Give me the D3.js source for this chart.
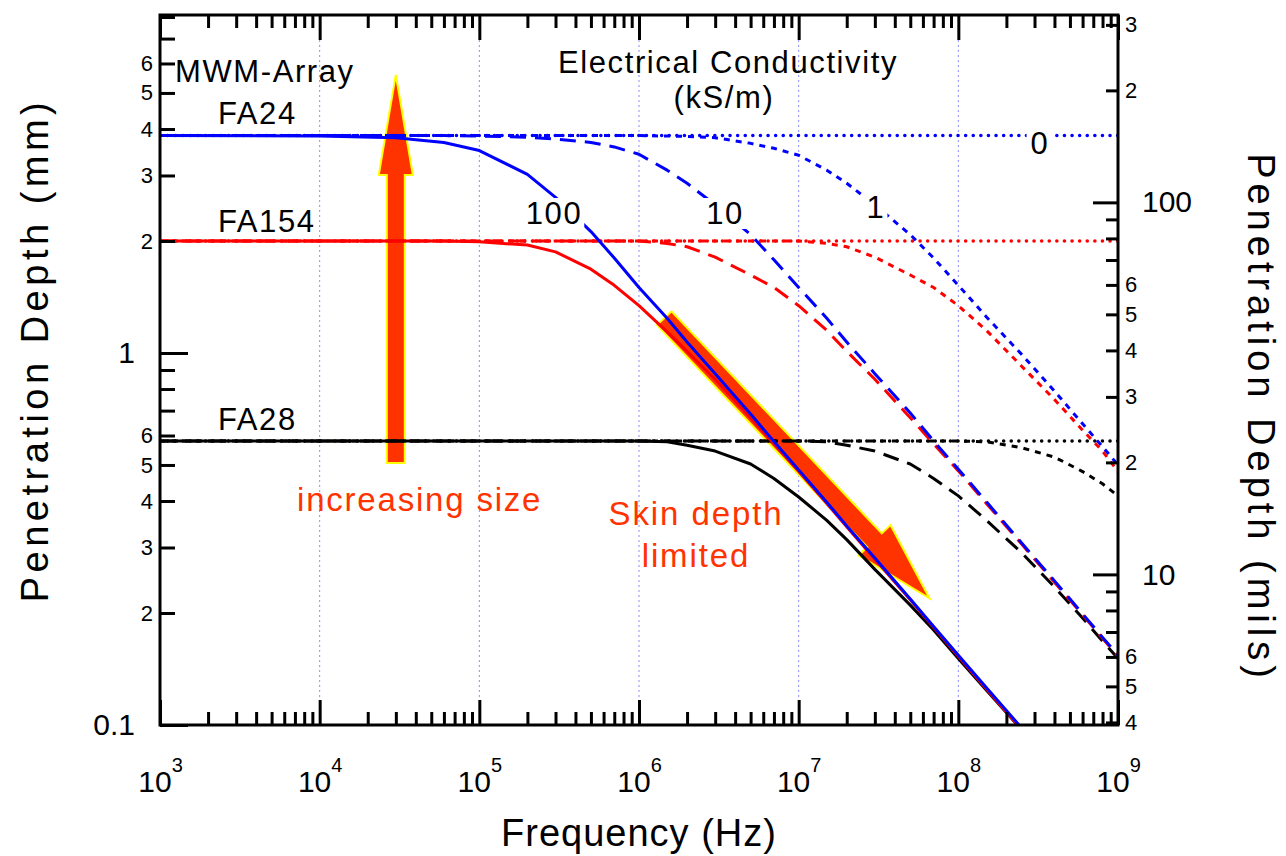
<!DOCTYPE html>
<html>
<head>
<meta charset="utf-8">
<script src="https://cdn.jsdelivr.net/npm/d3@7"></script>
<style>
  html, body { margin: 0; padding: 0; background: #fff; }
  svg { display: block; font-family: "Liberation Sans", Arial, sans-serif; }
</style>
</head>
<body>
<svg id="chart" width="1286" height="856"></svg>
<script>
// ---------- data ----------
// frequency sample points (Hz)
const freq = [1e3, 1e4, 3e4, 6e4, 1e5, 2e5, 3e5, 5e5, 7e5, 1e6, 1.5e6, 2e6, 3e6, 5e6, 7e6,
              1e7, 1.5e7, 2e7, 3e7, 5e7, 7e7, 1e8, 1.5e8, 2.5e8, 4e8, 6e8, 8e8, 1e9];

// penetration depth (mm) per sensor and conductivity (kS/m)
const fa24_s0   = [3.84,3.84,3.84,3.84,3.84,3.84,3.84,3.84,3.84,3.84,3.84,3.84,3.84,3.84,3.84,3.84,3.84,3.84,3.84,3.84,3.84,3.84,3.84,3.84,3.84,3.84,3.84,3.84];
const fa24_s1   = [3.84,3.84,3.84,3.84,3.84,3.84,3.84,3.84,3.84,3.84,3.83,3.82,3.79,3.66,3.55,3.40,3.10,2.86,2.50,2.08,1.80,1.52,1.25,0.99,0.79,0.645,0.56,0.50];
const fa24_s10  = [3.84,3.84,3.84,3.84,3.83,3.80,3.76,3.68,3.58,3.42,3.10,2.86,2.50,2.08,1.78,1.50,1.24,1.07,0.88,0.69,0.58,0.487,0.398,0.308,0.244,0.199,0.172,0.154];
const fa24_s100 = [3.84,3.83,3.79,3.68,3.50,3.02,2.62,2.12,1.80,1.50,1.24,1.07,0.88,0.685,0.578,0.485,0.397,0.343,0.281,0.218,0.184,0.154,0.126,0.098,null,null,null,null];

const fa154_s0   = [2.0,2.0,2.0,2.0,2.0,2.0,2.0,2.0,2.0,2.0,2.0,2.0,2.0,2.0,2.0,2.0,2.0,2.0,2.0,2.0,2.0,2.0,2.0,2.0,2.0,2.0,2.0,2.0];
const fa154_s1   = [2.0,2.0,2.0,2.0,2.0,2.0,2.0,2.0,2.0,2.0,2.0,2.0,2.0,2.0,2.0,2.0,1.97,1.93,1.81,1.62,1.50,1.34,1.15,0.92,0.75,0.62,0.545,0.48];
const fa154_s10  = [2.0,2.0,2.0,2.0,2.0,2.0,2.0,2.0,2.0,2.0,1.97,1.93,1.81,1.62,1.50,1.34,1.15,1.01,0.85,0.67,0.57,0.482,0.394,0.306,0.242,0.198,0.171,0.153];
const fa154_s100 = [2.0,2.0,2.0,2.0,1.99,1.95,1.87,1.68,1.52,1.34,1.14,1.01,0.85,0.67,0.57,0.48,0.394,0.341,0.279,0.217,0.183,0.153,0.125,0.097,null,null,null,null];

const fa28_s0   = [0.58,0.58,0.58,0.58,0.58,0.58,0.58,0.58,0.58,0.58,0.58,0.58,0.58,0.58,0.58,0.58,0.58,0.58,0.58,0.58,0.58,0.58,0.58,0.58,0.58,0.58,0.58,0.58];
const fa28_s1   = [0.58,0.58,0.58,0.58,0.58,0.58,0.58,0.58,0.58,0.58,0.58,0.58,0.58,0.58,0.58,0.58,0.58,0.58,0.58,0.58,0.58,0.58,0.577,0.556,0.525,0.48,0.445,0.413];
const fa28_s10  = [0.58,0.58,0.58,0.58,0.58,0.58,0.58,0.58,0.58,0.58,0.58,0.58,0.58,0.58,0.58,0.58,0.577,0.565,0.545,0.503,0.46,0.413,0.355,0.29,0.235,0.194,0.168,0.151];
const fa28_s100 = [0.58,0.58,0.58,0.58,0.58,0.58,0.58,0.58,0.58,0.58,0.577,0.565,0.545,0.503,0.46,0.41,0.355,0.315,0.262,0.21,0.18,0.151,0.124,0.097,null,null,null,null];

const sensors = ["FA24", "FA154", "FA28"];
const conductivities = ["0", "1", "10", "100"];

// axis ticks
const xMajor = [1e3, 1e4, 1e5, 1e6, 1e7, 1e8, 1e9];
const xGrid = [1e4, 1e5, 1e6, 1e7, 1e8];
const mmMajor = [0.1, 1];
const mmMajorLabels = ["0.1", "1"];
const mmLabeled = [0.2, 0.3, 0.4, 0.5, 0.6, 2, 3, 4, 5, 6];
const mmUnlabeled = [0.7, 0.8, 0.9, 7, 8];
const milsMajor = [10, 100];
const milsMajorLabels = ["10", "100"];
const milsLabeled = [4, 5, 6, 20, 30, 40, 50, 60, 200, 300];
const milsUnlabeled = [7, 8, 9, 70, 80, 90];

// annotation arrows (frequency Hz, depth mm)
const sizeArrow = { f: 3.0e4, from: 0.506, to: 5.59 };
const skinArrow = { f0: 1.44e6, d0: 1.24, f1: 6.6e7, d1: 0.219 };

// ---------- layout ----------
const svg = d3.select("#chart");
const L = 160, R = 1118, T = 15, B = 725;

const x = d3.scaleLog().domain([1e3, 1e9]).range([L, R]);
const y = d3.scaleLog().domain([0.1, 8.1]).range([B, T]);
const yMils = d3.scaleLog().domain([0.1 / 0.0254, 8.1 / 0.0254]).range([B, T]);

const xMinor = [];
for (let e = 3; e < 9; e++) for (let k = 2; k <= 9; k++) xMinor.push(k * Math.pow(10, e));

const colorOf = { FA24: "#0000ff", FA154: "#ff0000", FA28: "#000000" };
const dashOf = { "0": "0.1 7.5", "1": "6 6", "10": "16 9", "100": null };
const capOf = { "0": "round", "1": "butt", "10": "butt", "100": "round" };

const table = {
  FA24:  { "0": fa24_s0,  "1": fa24_s1,  "10": fa24_s10,  "100": fa24_s100 },
  FA154: { "0": fa154_s0, "1": fa154_s1, "10": fa154_s10, "100": fa154_s100 },
  FA28:  { "0": fa28_s0,  "1": fa28_s1,  "10": fa28_s10,  "100": fa28_s100 }
};

// ---------- grid ----------
svg.append("g").selectAll("line").data(xGrid).join("line")
  .attr("x1", d => x(d)).attr("x2", d => x(d))
  .attr("y1", T).attr("y2", B)
  .attr("stroke", "#8c8cff").attr("stroke-width", 1)
  .attr("stroke-dasharray", "2 3");

// ---------- arrows ----------
function arrowPath(p0, p1, shaftHalf, headHalf, headLen) {
  const dx = p1[0] - p0[0], dy = p1[1] - p0[1];
  const len = Math.hypot(dx, dy);
  const ux = dx / len, uy = dy / len;
  const nx = -uy, ny = ux;
  const bx = p1[0] - ux * headLen, by = p1[1] - uy * headLen;
  const pts = [
    [p0[0] + nx * shaftHalf, p0[1] + ny * shaftHalf],
    [bx + nx * shaftHalf, by + ny * shaftHalf],
    [bx + nx * headHalf, by + ny * headHalf],
    p1,
    [bx - nx * headHalf, by - ny * headHalf],
    [bx - nx * shaftHalf, by - ny * shaftHalf],
    [p0[0] - nx * shaftHalf, p0[1] - ny * shaftHalf]
  ];
  return "M" + pts.map(p => p[0].toFixed(1) + "," + p[1].toFixed(1)).join("L") + "Z";
}

const arrows = svg.append("g");
arrows.append("path")
  .attr("d", arrowPath([x(sizeArrow.f), y(sizeArrow.from)], [x(sizeArrow.f), y(sizeArrow.to)], 9, 17, 100))
  .attr("fill", "#ff3300").attr("stroke", "#ffff00").attr("stroke-width", 2).attr("stroke-linejoin", "miter");
arrows.append("path")
  .attr("d", arrowPath([x(skinArrow.f0), y(skinArrow.d0)], [x(skinArrow.f1), y(skinArrow.d1)], 10, 22, 80))
  .attr("fill", "#ff3300").attr("stroke", "#ffff00").attr("stroke-width", 2).attr("stroke-linejoin", "miter");

// ---------- curves ----------
svg.append("clipPath").attr("id", "plotClip")
  .append("rect").attr("x", L).attr("y", T).attr("width", R - L).attr("height", B - T);

const line = d3.line()
  .defined(d => d.v != null)
  .x(d => x(d.f))
  .y(d => y(d.v));

const curves = svg.append("g").attr("clip-path", "url(#plotClip)");
const drawOrder = ["FA28", "FA154", "FA24"];
conductivities.forEach(c => {
  drawOrder.forEach(s => {
    const pts = freq.map((f, i) => ({ f, v: table[s][c][i] }));
    curves.append("path")
      .datum(pts)
      .attr("d", line)
      .attr("fill", "none")
      .attr("stroke", colorOf[s])
      .attr("stroke-width", c === "0" ? 3.5 : 3)
      .attr("stroke-linecap", capOf[c])
      .attr("stroke-linejoin", "round")
      .attr("stroke-dasharray", dashOf[c]);
  });
});

// ---------- axes ----------
function styleAxis(g) {
  g.select(".domain").remove();
  g.selectAll(".tick line").attr("stroke", "#000").attr("stroke-width", 3);
  g.selectAll(".tick text").attr("fill", "#000");
}

// bottom
const gBottomMinor = svg.append("g").attr("transform", `translate(0,${B})`)
  .call(d3.axisBottom(x).tickValues(xMinor).tickSizeInner(-13).tickSizeOuter(0).tickFormat(""));
styleAxis(gBottomMinor);
const gBottom = svg.append("g").attr("transform", `translate(0,${B})`)
  .call(d3.axisBottom(x).tickValues(xMajor).tickSizeInner(-25).tickSizeOuter(0).tickFormat(""));
styleAxis(gBottom);
gBottom.selectAll(".tick text").remove();
gBottom.selectAll(".tick").append("text")
  .attr("y", 67)
  .attr("text-anchor", "middle")
  .attr("font-size", 30)
  .attr("fill", "#000")
  .each(function (d) {
    const t = d3.select(this);
    t.append("tspan").text("10");
    t.append("tspan").attr("font-size", 20).attr("dy", -20).text(String(Math.round(Math.log10(d))));
  });

// top
const gTopMinor = svg.append("g").attr("transform", `translate(0,${T})`)
  .call(d3.axisTop(x).tickValues(xMinor).tickSizeInner(-13).tickSizeOuter(0).tickFormat(""));
styleAxis(gTopMinor);
const gTop = svg.append("g").attr("transform", `translate(0,${T})`)
  .call(d3.axisTop(x).tickValues(xMajor).tickSizeInner(-25).tickSizeOuter(0).tickFormat(""));
styleAxis(gTop);

// left (mm)
const leadDigit = v => String(Math.round(v / Math.pow(10, Math.floor(Math.log10(v) + 1e-9))));
const gLeftUn = svg.append("g").attr("transform", `translate(${L},0)`)
  .call(d3.axisLeft(y).tickValues(mmUnlabeled).tickSizeInner(-15).tickSizeOuter(0).tickFormat(""));
styleAxis(gLeftUn);
const gLeftLab = svg.append("g").attr("transform", `translate(${L},0)`)
  .call(d3.axisLeft(y).tickValues(mmLabeled).tickSizeInner(-15).tickSizeOuter(0).tickPadding(7).tickFormat(leadDigit));
styleAxis(gLeftLab);
gLeftLab.selectAll(".tick text").attr("font-size", 22).attr("font-family", null);
const gLeftMaj = svg.append("g").attr("transform", `translate(${L},0)`)
  .call(d3.axisLeft(y).tickValues(mmMajor).tickSizeInner(-28).tickSizeOuter(0).tickPadding(25)
    .tickFormat((d, i) => mmMajorLabels[i]));
styleAxis(gLeftMaj);
gLeftMaj.selectAll(".tick text").attr("font-size", 30).attr("font-family", null);

// right (mils)
const gRightUn = svg.append("g").attr("transform", `translate(${R},0)`)
  .call(d3.axisRight(yMils).tickValues(milsUnlabeled).tickSizeInner(-12).tickSizeOuter(0).tickFormat(""));
styleAxis(gRightUn);
const gRightLab = svg.append("g").attr("transform", `translate(${R},0)`)
  .call(d3.axisRight(yMils).tickValues(milsLabeled).tickSizeInner(-12).tickSizeOuter(0).tickPadding(7).tickFormat(leadDigit));
styleAxis(gRightLab);
gRightLab.selectAll(".tick text").attr("font-size", 22).attr("font-family", null);
const gRightMaj = svg.append("g").attr("transform", `translate(${R},0)`)
  .call(d3.axisRight(yMils).tickValues(milsMajor).tickSizeInner(-25).tickSizeOuter(0).tickPadding(24)
    .tickFormat((d, i) => milsMajorLabels[i]));
styleAxis(gRightMaj);
gRightMaj.selectAll(".tick text").attr("font-size", 30).attr("font-family", null);

// frame
svg.append("rect").attr("x", L).attr("y", T).attr("width", R - L).attr("height", B - T)
  .attr("fill", "none").attr("stroke", "#000").attr("stroke-width", 3);

// ---------- text ----------
function label(txt, xp, yp, opts = {}) {
  const g = svg.append("g");
  const t = g.append("text")
    .attr("x", xp).attr("y", yp)
    .attr("font-size", opts.size || 31)
    .attr("letter-spacing", opts.ls != null ? opts.ls : 1.6)
    .attr("text-anchor", opts.anchor || "start")
    .attr("fill", opts.color || "#000")
    .text(txt);
  if (opts.bg) {
    // white patch so the label reads cleanly over the curve it names
    const bb = t.node().getBBox();
    g.insert("rect", "text")
      .attr("x", bb.x - 4).attr("y", bb.y + 2)
      .attr("width", bb.width + 6).attr("height", bb.height - 4)
      .attr("fill", "#fff");
  }
  return t;
}

label("MWM-Array", 175, 82);
label("Electrical Conductivity", 728, 73, { anchor: "middle" });
label("(kS/m)", 724, 108, { anchor: "middle" });
label(sensors[0], 218, 124);
label(sensors[1], 218, 232);
label(sensors[2], 218, 430);
label(conductivities[3], 554, 224, { anchor: "middle", bg: true });
label(conductivities[2], 725, 224, { anchor: "middle", bg: true });
label(conductivities[1], 876, 218, { anchor: "middle", bg: true });
label(conductivities[0], 1040, 154, { anchor: "middle", bg: true });

label("increasing size", 297, 511, { size: 33, color: "#ff3300", ls: 1.8 });
label("Skin depth", 696, 525, { size: 33, color: "#ff3300", anchor: "middle", ls: 1.9 });
label("limited", 696, 567, { size: 33, color: "#ff3300", anchor: "middle", ls: 1.9 });

// axis titles
svg.append("text")
  .attr("transform", "translate(48,350) rotate(-90)")
  .attr("text-anchor", "middle").attr("font-size", 38).attr("letter-spacing", 4.5)
  .text("Penetration Depth (mm)");
svg.append("text")
  .attr("transform", "translate(1248,418) rotate(90)")
  .attr("text-anchor", "middle").attr("font-size", 38).attr("letter-spacing", 5)
  .text("Penetration Depth (mils)");
svg.append("text")
  .attr("x", (L + R) / 2).attr("y", 846)
  .attr("text-anchor", "middle").attr("font-size", 38).attr("letter-spacing", 1)
  .text("Frequency (Hz)");
</script>
</body>
</html>
